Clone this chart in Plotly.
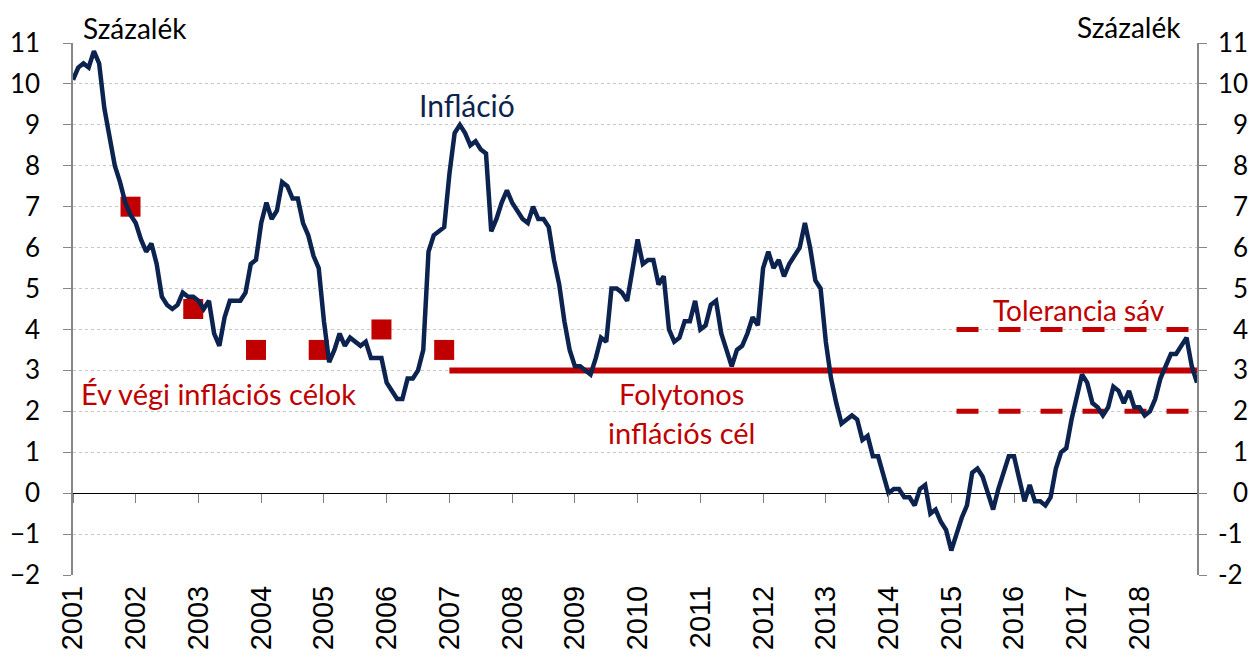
import plotly.graph_objects as go

# Monthly inflation (percent), Jan..Dec of each year
infl_2001 = [10.1, 10.4, 10.5, 10.4, 10.8, 10.5, 9.4, 8.7, 8.0, 7.6, 7.1, 6.8]
infl_2002 = [6.6, 6.2, 5.9, 6.1, 5.6, 4.8, 4.6, 4.5, 4.6, 4.9, 4.8, 4.8]
infl_2003 = [4.7, 4.5, 4.7, 3.9, 3.6, 4.3, 4.7, 4.7, 4.7, 4.9, 5.6, 5.7]
infl_2004 = [6.6, 7.1, 6.7, 6.9, 7.6, 7.5, 7.2, 7.2, 6.6, 6.3, 5.8, 5.5]
infl_2005 = [4.2, 3.2, 3.5, 3.9, 3.6, 3.8, 3.7, 3.6, 3.7, 3.3, 3.3, 3.3]
infl_2006 = [2.7, 2.5, 2.3, 2.3, 2.8, 2.8, 3.0, 3.5, 5.9, 6.3, 6.4, 6.5]
infl_2007 = [7.8, 8.8, 9.0, 8.8, 8.5, 8.6, 8.4, 8.3, 6.4, 6.7, 7.1, 7.4]
infl_2008 = [7.1, 6.9, 6.7, 6.6, 7.0, 6.7, 6.7, 6.5, 5.7, 5.1, 4.2, 3.5]
infl_2009 = [3.1, 3.1, 3.0, 2.9, 3.3, 3.8, 3.7, 5.0, 5.0, 4.9, 4.7, 5.4]
infl_2010 = [6.2, 5.6, 5.7, 5.7, 5.1, 5.3, 4.0, 3.7, 3.8, 4.2, 4.2, 4.7]
infl_2011 = [4.0, 4.1, 4.6, 4.7, 3.9, 3.5, 3.1, 3.5, 3.6, 3.9, 4.3, 4.1]
infl_2012 = [5.5, 5.9, 5.5, 5.7, 5.3, 5.6, 5.8, 6.0, 6.6, 6.0, 5.2, 5.0]
infl_2013 = [3.7, 2.8, 2.2, 1.7, 1.8, 1.9, 1.8, 1.3, 1.4, 0.9, 0.9, 0.4]
infl_2014 = [0.0, 0.1, 0.1, -0.1, -0.1, -0.3, 0.1, 0.2, -0.5, -0.4, -0.7, -0.9]
infl_2015 = [-1.4, -1.0, -0.6, -0.3, 0.5, 0.6, 0.4, 0.0, -0.4, 0.1, 0.5, 0.9]
infl_2016 = [0.9, 0.3, -0.2, 0.2, -0.2, -0.2, -0.3, -0.1, 0.6, 1.0, 1.1, 1.8]
infl_2017 = [2.3, 2.9, 2.7, 2.2, 2.1, 1.9, 2.1, 2.6, 2.5, 2.2, 2.5, 2.1]
infl_2018 = [2.1, 1.9, 2.0, 2.3, 2.8, 3.1, 3.4, 3.4, 3.6, 3.8, 3.1, 2.7]

first_year = 2001
years = list(range(2001, 2019))

# Year-end inflation targets (December of each year)
target_years = [2001, 2002, 2003, 2004, 2005, 2006]
target_values = [7.0, 4.5, 3.5, 3.5, 4.0, 3.5]

# Continuous inflation target and tolerance band
continuous_target = 3.0
continuous_start = (2007, 1)
band_low, band_high = 2.0, 4.0
band_start = (2015, 2)

y_ticks = list(range(-2, 12))

NAVY = "#0c2350"
RED = "#c00000"

inflation = (infl_2001 + infl_2002 + infl_2003 + infl_2004 + infl_2005 + infl_2006 +
             infl_2007 + infl_2008 + infl_2009 + infl_2010 + infl_2011 + infl_2012 +
             infl_2013 + infl_2014 + infl_2015 + infl_2016 + infl_2017 + infl_2018)


def ym(year, month):
    return year + (month - 1) / 12.0


x_months = [first_year + i / 12.0 for i in range(len(inflation))]
x_end = x_months[-1]

fig = go.Figure()

# continuous target
fig.add_trace(go.Scatter(x=[ym(*continuous_start), x_end], y=[continuous_target] * 2,
                         mode="lines", line=dict(color=RED, width=6),
                         hoverinfo="skip"))
# tolerance band
for v in (band_low, band_high):
    fig.add_trace(go.Scatter(x=[ym(*band_start), x_end], y=[v, v], mode="lines",
                             line=dict(color=RED, width=5, dash="22px,20px"),
                             hoverinfo="skip"))
# year-end targets
fig.add_trace(go.Scatter(x=[ym(y, 12) for y in target_years], y=target_values,
                         mode="markers",
                         marker=dict(symbol="square", size=20, color=RED),
                         hoverinfo="skip"))
# inflation (on overlay axes so it is drawn on top and the right axis is rendered)
fig.add_trace(go.Scatter(x=x_months, y=inflation, mode="lines",
                         line=dict(color=NAVY, width=4.5), xaxis="x2", yaxis="y2"))

x_range = [first_year, x_end]
right_text = [("\u2007" + str(v)) if 0 <= v <= 9 else str(v) for v in y_ticks]

fig.update_layout(
    width=1259, height=660,
    margin=dict(l=72.5, r=62.3, t=43, b=85, autoexpand=False),
    plot_bgcolor="white", paper_bgcolor="white",
    showlegend=False,
    font=dict(family="Lato", size=26, color="black"),
    xaxis=dict(range=x_range, tickmode="array", tickvals=years,
               ticktext=[str(y) for y in years], tickangle=-90,
               showgrid=False, showline=False, ticks="", zeroline=False,
               tickfont=dict(family="Liberation Sans", size=29),
               ticklabelstandoff=4),
    xaxis2=dict(range=x_range, overlaying="x", anchor="free", position=2 / 13,
                side="bottom", showline=False, ticks="outside", ticklen=9,
                tickwidth=1.3, tickcolor="#808080", tickmode="array",
                tickvals=years, showticklabels=False, showgrid=False,
                zeroline=False),
    yaxis=dict(range=[-2, 11], tickmode="array", tickvals=y_ticks,
               showgrid=True, gridcolor="#c8c8c8", griddash="dot", gridwidth=1,
               zeroline=True, zerolinecolor="black", zerolinewidth=1.3,
               showline=True, linecolor="#868686", linewidth=1.5,
               ticks="outside", ticklen=8, tickcolor="#868686",
               ticklabelstandoff=18),
    yaxis2=dict(range=[-2, 11], overlaying="y", side="right", anchor="x2",
                tickmode="array", tickvals=y_ticks, ticktext=right_text,
                showgrid=False, zeroline=False, showline=True,
                linecolor="#868686", linewidth=1.5, ticks="outside", ticklen=8,
                tickcolor="#868686", ticklabelstandoff=6),
)

fig.add_annotation(text="Százalék", xref="paper", yref="paper", x=0.0067, y=1.028,
                   xanchor="left", yanchor="middle", showarrow=False,
                   font=dict(size=28, color="black"))
fig.add_annotation(text="Százalék", xref="paper", yref="paper", x=0.9878, y=1.030,
                   xanchor="right", yanchor="middle", showarrow=False,
                   font=dict(size=28, color="black"))
fig.add_annotation(text="Infláció", x=2007.28, y=9.48, xref="x", yref="y",
                   showarrow=False, font=dict(size=30, color=NAVY))
fig.add_annotation(text="Év végi inflációs célok", x=2001.09, y=2.44, xref="x", yref="y",
                   xanchor="left", showarrow=False, font=dict(size=29, color=RED))
fig.add_annotation(text="Folytonos", x=2010.70, y=2.44, xref="x", yref="y",
                   showarrow=False, font=dict(size=29, color=RED))
fig.add_annotation(text="inflációs cél", x=2010.70, y=1.49, xref="x", yref="y",
                   showarrow=False, font=dict(size=29, color=RED))
fig.add_annotation(text="Tolerancia sáv", x=2017.04, y=4.47, xref="x", yref="y",
                   showarrow=False, font=dict(size=28, color=RED))

fig.write_html("out.html", config={"displayModeBar": False},
               post_script="document.body.style.margin='0px';")
